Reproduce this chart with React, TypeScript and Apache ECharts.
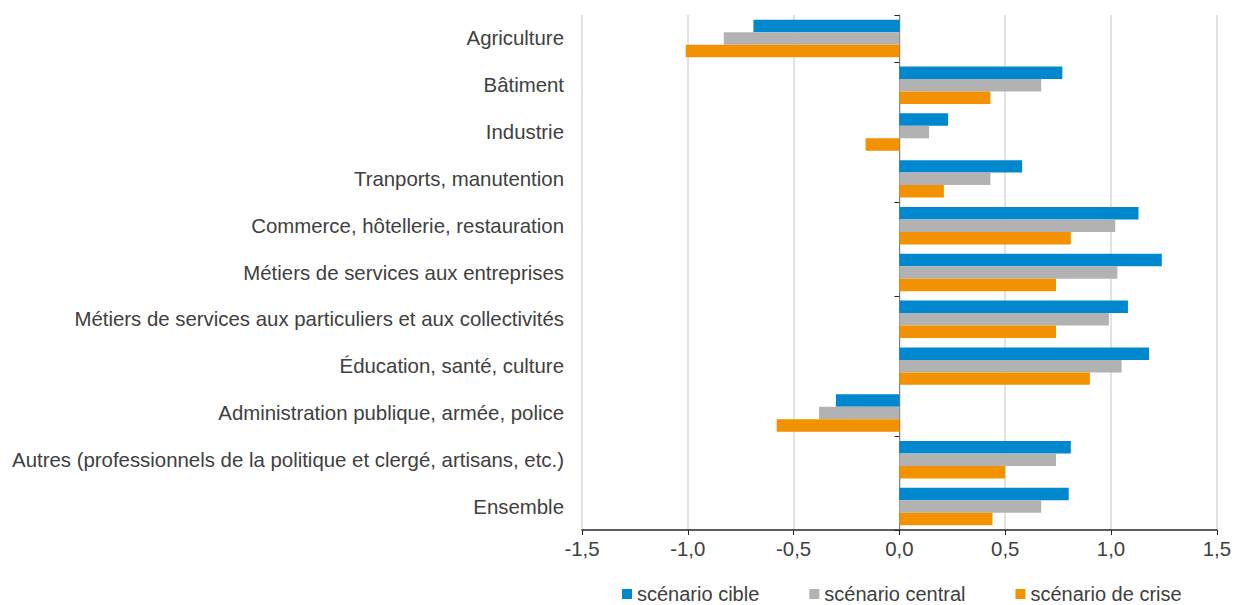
import React, { useEffect, useRef } from "react";
import * as echarts from "echarts";

const categories = [
  "Agriculture",
  "Bâtiment",
  "Industrie",
  "Tranports, manutention",
  "Commerce, hôtellerie, restauration",
  "Métiers de services aux entreprises",
  "Métiers de services aux particuliers et aux collectivités",
  "Éducation, santé, culture",
  "Administration publique, armée, police",
  "Autres (professionnels de la politique et clergé, artisans, etc.)",
  "Ensemble",
];

const seriesNames = ["scénario cible", "scénario central", "scénario de crise"];

const scenarioCible = [-0.69, 0.77, 0.23, 0.58, 1.13, 1.24, 1.08, 1.18, -0.3, 0.81, 0.8];
const scenarioCentral = [-0.83, 0.67, 0.14, 0.43, 1.02, 1.03, 0.99, 1.05, -0.38, 0.74, 0.67];
const scenarioCrise = [-1.01, 0.43, -0.16, 0.21, 0.81, 0.74, 0.74, 0.9, -0.58, 0.5, 0.44];

const colors = ["#0088CE", "#B2B2B2", "#F39200"];
const FONT = "'Liberation Sans', Arial, sans-serif";

export default function App() {
  const ref = useRef<HTMLDivElement>(null);

  useEffect(() => {
    if (!ref.current) return;
    const chart = echarts.init(ref.current, null, { renderer: "svg" });
    const tickBoundaries = [0, 1, 4, 6, 9];
    chart.setOption({
      animation: false,
      textStyle: { fontFamily: FONT },
      grid: { left: 582, right: 13, top: 15, bottom: 75, containLabel: false },
      legend: {
        data: seriesNames,
        left: 622,
        top: 584,
        padding: 0,
        icon: "rect",
        itemWidth: 10,
        itemHeight: 10,
        itemGap: 50,
        textStyle: { fontSize: 20, lineHeight: 18, color: "#404040", fontFamily: FONT },
      },
      xAxis: {
        type: "value",
        min: -1.5,
        max: 1.5,
        interval: 0.5,
        axisLine: { show: true, onZero: false, lineStyle: { color: "#262626", width: 1.5 } },
        axisTick: { show: true, length: 5, lineStyle: { color: "#262626" } },
        splitLine: { show: true, lineStyle: { color: "#D9D9D9", width: 1.5 } },
        axisLabel: {
          fontSize: 20.4,
          color: "#404040",
          margin: 9,
          fontFamily: FONT,
          formatter: (v: number) => v.toFixed(1).replace(".", ","),
        },
      },
      yAxis: [
        {
          type: "category",
          data: categories,
          inverse: true,
          axisLine: { show: false, onZero: false },
          axisTick: { show: false },
          axisLabel: { fontSize: 20.4, color: "#404040", margin: 18, fontFamily: FONT },
        },
        {
          type: "category",
          data: categories,
          inverse: true,
          position: "left",
          axisLine: { show: true, onZero: true, lineStyle: { color: "#808080", width: 1 } },
          axisTick: {
            show: true,
            length: 5,
            lineStyle: { color: "#262626" },
            interval: (i: number) => tickBoundaries.includes(i),
          },
          axisLabel: { show: false },
        },
      ],
      series: [scenarioCible, scenarioCentral, scenarioCrise].map((d, i) => ({
        name: seriesNames[i],
        type: "bar",
        data: d,
        barGap: 0,
        barCategoryGap: "20%",
        itemStyle: { color: colors[i] },
      })),
    });
    return () => chart.dispose();
  }, []);

  return (
    <div
      ref={ref}
      style={{ position: "fixed", left: 0, top: 0, width: 1234, height: 605, background: "#fff" }}
    />
  );
}
